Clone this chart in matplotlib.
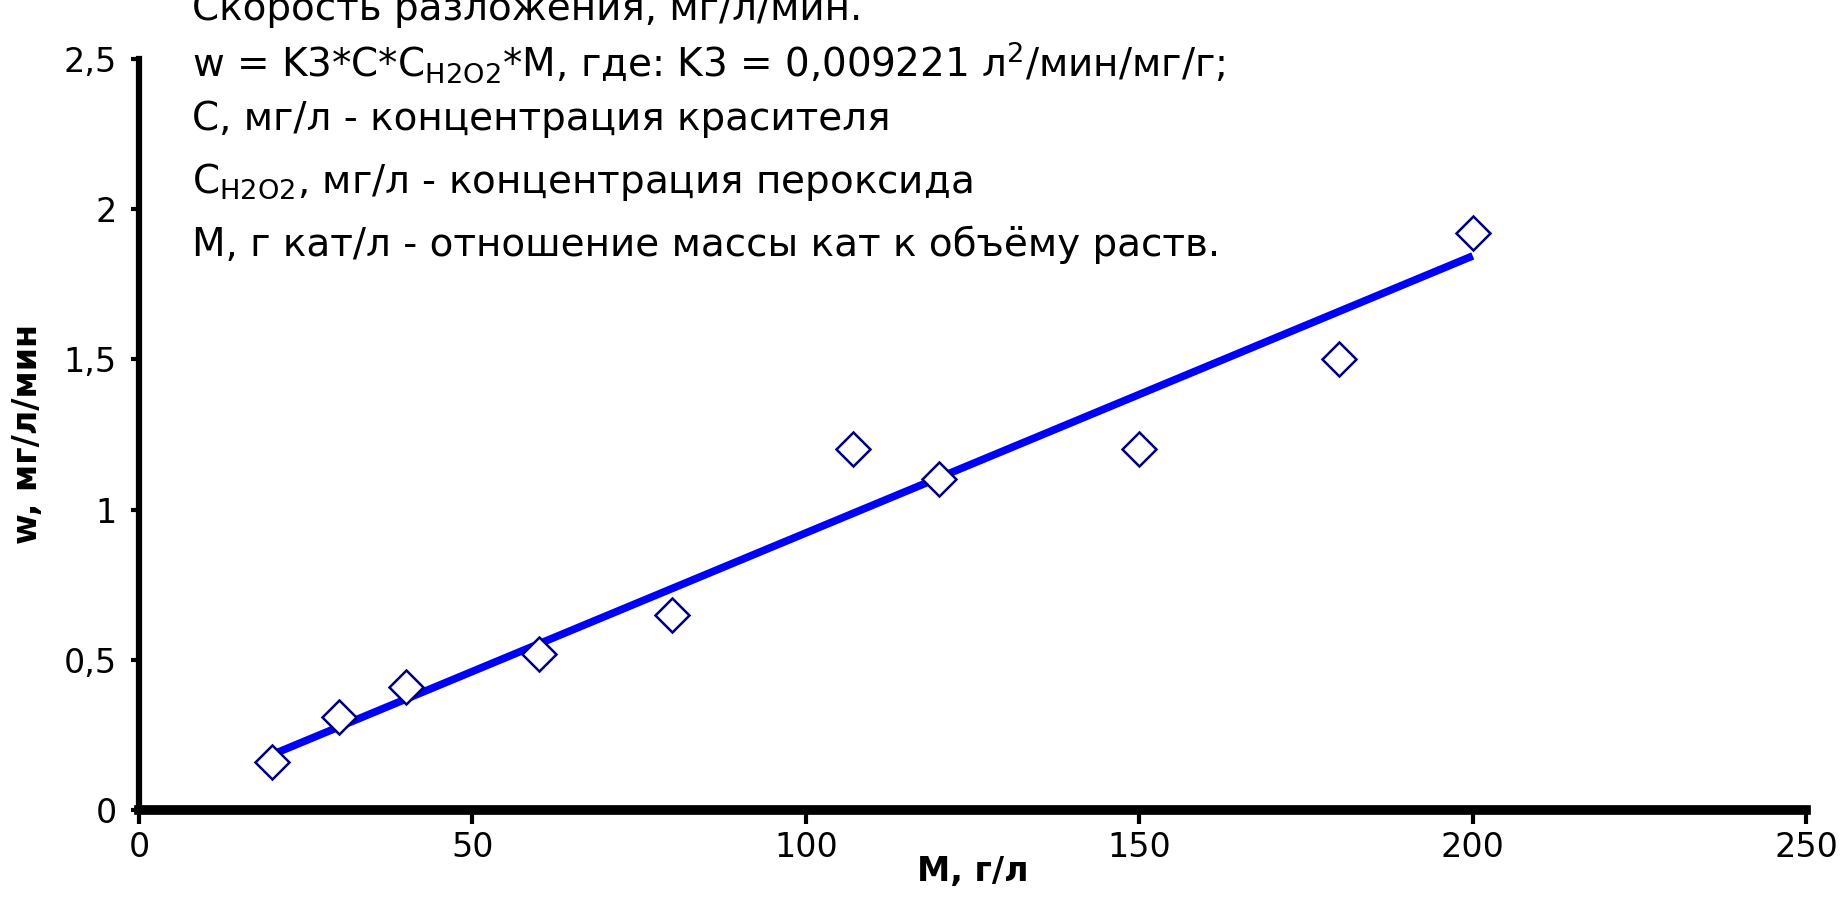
import numpy as np
import matplotlib
matplotlib.use("Agg")
import matplotlib.pyplot as plt
from matplotlib.ticker import FuncFormatter

plt.rcParams['font.family'] = ['DejaVu Sans']
plt.rcParams['mathtext.fontset'] = 'dejavusans'

# данные
m_values = [20, 30, 40, 60, 80, 107, 120, 150, 180, 200]
w_values = [0.16, 0.31, 0.41, 0.52, 0.65, 1.20, 1.10, 1.20, 1.50, 1.92]
k3 = 0.009221
fit_x = [20, 200]

x_ticks = [0, 50, 100, 150, 200, 250]
y_ticks = [0, 0.5, 1, 1.5, 2, 2.5]

note_lines = [
    "Скорость разложения, мг/л/мин.",
    r"w = K3*C*C$_{\mathregular{H2O2}}$*M, где: K3 = 0,009221 л$^{\mathregular{2}}$/мин/мг/г;",
    "С, мг/л - концентрация красителя",
    r"C$_{\mathregular{H2O2}}$, мг/л - концентрация пероксида",
    "М, г кат/л - отношение массы кат к объёму раств.",
]
note_y = [2.665, 2.49, 2.30, 2.09, 1.88]

fig = plt.figure(figsize=(18.45, 9.06), dpi=100)
ax = fig.add_axes([0.0753, 0.106, 0.9037, 0.829])

# линия тренда w = K3*M
fit_y = k3 * np.array(fit_x)
ax.plot(fit_x, fit_y, color="#0000ff", lw=5.5, solid_capstyle="butt", zorder=2)
ax.plot(m_values, w_values, ls="none", marker="D", ms=17, mfc="white",
        mec="#000080", mew=1.8, zorder=3)

ax.set_xlim(0, 250)
ax.set_ylim(0, 2.5)
ax.set_xticks(x_ticks)
ax.set_yticks(y_ticks)
comma = FuncFormatter(lambda v, p: ("%g" % v).replace(".", ","))
ax.xaxis.set_major_formatter(comma)
ax.yaxis.set_major_formatter(comma)

for side in ["top", "right"]:
    ax.spines[side].set_visible(False)
ax.spines["left"].set_linewidth(4.5)
ax.spines["bottom"].set_linewidth(7)
ax.tick_params(axis="x", direction="out", length=10, width=3,
               labelsize=24, pad=5)
ax.tick_params(axis="y", direction="out", length=6, width=3,
               labelsize=24, pad=10)

ax.set_xlabel("М, г/л", fontsize=24, fontweight="bold", labelpad=-6)
ax.set_ylabel("w, мг/л/мин", fontsize=24, fontweight="bold", labelpad=14)

for txt, yy in zip(note_lines, note_y):
    ax.text(7.9, yy, txt, fontsize=28, va="center", ha="left", clip_on=False)

fig.savefig("out.png", dpi=100, facecolor="white")
